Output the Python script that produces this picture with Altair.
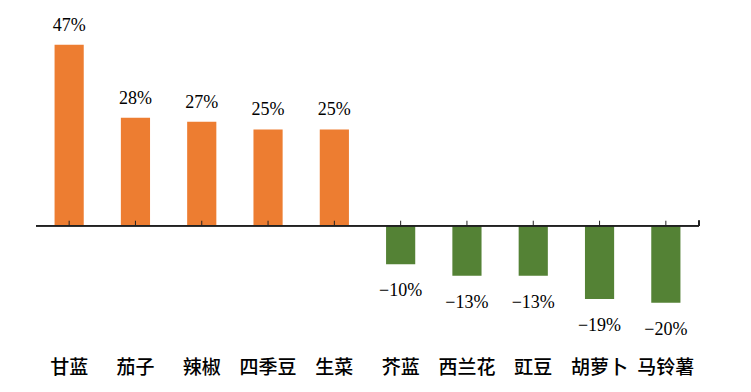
import altair as alt
import pandas as pd

categories = ["甘蓝", "茄子", "辣椒", "四季豆", "生菜", "芥蓝", "西兰花", "豇豆", "胡萝卜", "马铃薯"]
values = [47, 28, 27, 25, 25, -10, -13, -13, -19, -20]

df = pd.DataFrame({"cat": categories, "value": values})

W = 663
H = 339

xenc = alt.X("cat:N", sort=categories,
             scale=alt.Scale(paddingInner=0.56, paddingOuter=0.28),
             axis=alt.Axis(title=None, labelAngle=0, domain=False, ticks=False,
                           labelFont="Noto Sans CJK SC", labelFontSize=19,
                           labelFontWeight=500,
                           labelColor="#000000", labelPadding=9))
yscale = alt.Scale(domain=[-32, 56], nice=False, zero=False)
yenc = alt.Y("value:Q", scale=yscale, axis=None)

base = alt.Chart(df)

bars = base.mark_bar().encode(
    x=xenc, y=yenc, y2=alt.datum(0),
    color=alt.condition("datum.value > 0", alt.value("#ED7D31"), alt.value("#548235")),
)

zero = base.mark_rule(color="#222222", strokeWidth=1).encode(
    y=alt.datum(0, scale=yscale), x=alt.value(0), x2=alt.value(W)
)

ticks = base.mark_rule(color="#222222", strokeWidth=1, y2Offset=-5).encode(
    x=alt.X("cat:N", sort=categories), y=alt.datum(0), y2=alt.datum(0)
)

end_tick = base.mark_rule(color="#222222", strokeWidth=1, y2Offset=-5).encode(
    x=alt.value(W), y=alt.datum(0), y2=alt.datum(0)
)

lbl = base.transform_calculate(label="format(datum.value, 'd') + '%'")

pos_text = lbl.transform_filter("datum.value > 0").mark_text(
    font="Liberation Serif", fontSize=18, baseline="middle", dy=-19, color="#000000"
).encode(x=alt.X("cat:N", sort=categories), y="value:Q", text="label:N")

neg_text = lbl.transform_filter("datum.value < 0").mark_text(
    font="Liberation Serif", fontSize=18, baseline="middle", dy=27, color="#000000"
).encode(x=alt.X("cat:N", sort=categories), y="value:Q", text="label:N")

chart = alt.layer(bars, zero, ticks, end_tick, pos_text, neg_text).properties(
    width=W, height=H,
    autosize=alt.AutoSizeParams(type="none"),
    padding={"left": 28, "top": 2, "right": 12, "bottom": 35},
).configure(background="white").configure_view(stroke=None, strokeWidth=0)

chart.save("out.html", embed_options={"renderer": "svg", "actions": False})
